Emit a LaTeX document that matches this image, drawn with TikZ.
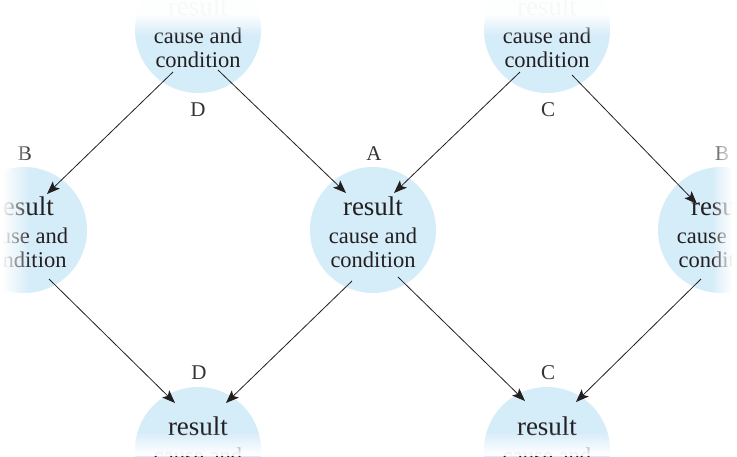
\documentclass[tikz,border=0pt]{standalone}
\usepackage{fontspec}
\setmainfont{Liberation Serif}
\usetikzlibrary{calc,arrows.meta}

\definecolor{bubblecol}{HTML}{D5ECF9}
\definecolor{ink}{HTML}{231F20}
\definecolor{tagcol}{HTML}{333333}

\tikzset{
  bubble/.style={circle, fill=bubblecol, draw=none, minimum size=126pt, inner sep=0pt},
  headtxt/.style={font=\fontsize{27}{27}\selectfont, text=ink, anchor=base, inner sep=0pt},
  bodytxt/.style={font=\fontsize{22.5}{24}\selectfont, text=ink, anchor=base, inner sep=0pt},
  tag/.style={font=\fontsize{21}{21}\selectfont, text=tagcol, inner sep=0pt},
  conn/.style={draw=ink, line width=0.8pt, -{Stealth[length=13pt,width=10pt,inset=3pt]}},
}

% a pale disc carrying "result / cause and condition"
\newcommand\causebubble[3]{%
  \node[bubble] (#1) at (#2,#3) {};
  \node[headtxt] (#1-res) at ($(#1)+(0,-15)$) {result};
  \node[bodytxt] (#1-ca) at ($(#1)+(0,13)$) {cause and};
  \node[bodytxt] (#1-co) at ($(#1)+(0,37)$) {condition};
}

\begin{document}
\begin{tikzpicture}[x=1pt,y=-1pt]
  \useasboundingbox (0,0) rectangle (737,456);
  \clip (0,0) rectangle (737,456);
  \fill[white] (0,0) rectangle (737,456);

  % discs
  \causebubble{tl}{198}{30}
  \causebubble{tr}{547}{30}
  \causebubble{ml}{24}{230}
  \causebubble{mc}{373}{230}
  \causebubble{mr}{721}{230}
  \causebubble{bl}{198}{450}
  \causebubble{br}{547}{450}

  % letters
  \node[tag] (tagD1) at (198,110) {D};
  \node[tag] (tagC1) at (548,110) {C};
  \node[tag] (tagB1) at (25,154) {B};
  \node[tag] (tagA)  at (374,154) {A};
  \node[tag] (tagB2) at (722,154) {B};
  \node[tag] (tagD2) at (199,373) {D};
  \node[tag] (tagC2) at (548,373) {C};

  % white fades along the four borders
  \foreach \i in {0,...,29}{
    \pgfmathsetmacro\op{min(1,(30-\i)/28)}
    \fill[white, fill opacity=\op] (\i,0) rectangle (\i+1,456);
  }
  \foreach \i in {712,...,736}{
    \pgfmathsetmacro\op{min(1,(\i+1-712)/21)}
    \fill[white, fill opacity=\op] (\i,0) rectangle (\i+1,456);
  }
  \foreach \i in {0,...,35}{
    \pgfmathsetmacro\op{min(0.97,0.97*(36-\i)/22)}
    \fill[white, fill opacity=\op] (0,\i) rectangle (737,\i+1);
  }
  \foreach \i in {432,...,455}{
    \pgfmathsetmacro\op{min(0.93,0.93*(\i+1-432)/22)}
    \fill[white, fill opacity=\op] (0,\i) rectangle (737,\i+1);
  }

  % connectors
  \draw[conn] ($(tl)+(-25,42)$) -- ($(ml)+(23,-36)$);
  \draw[conn] ($(tl)+(20,40)$)  -- ($(mc)+(-27,-37)$);
  \draw[conn] ($(tr)+(-27,42)$) -- ($(mc)+(21,-37)$);
  \draw[conn] ($(tr)+(25,45)$)  -- ($(mr)+(-24,-26)$);
  \draw[conn] ($(ml)+(25,49)$)  -- ($(bl)+(-23,-47)$);
  \draw[conn] ($(mc)+(-21,51)$) -- ($(bl)+(28,-47)$);
  \draw[conn] ($(mc)+(25,47)$)  -- ($(br)+(-22,-49)$);
  \draw[conn] ($(mr)+(-20,49)$) -- ($(br)+(29,-48)$);
\end{tikzpicture}
\end{document}
